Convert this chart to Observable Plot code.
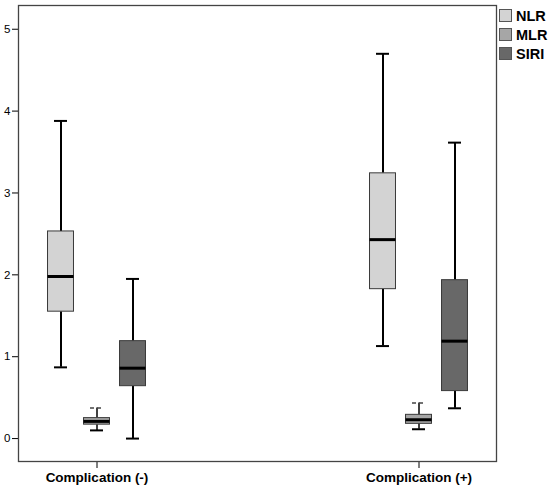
<!DOCTYPE html>
<html><head><meta charset="utf-8">
<script src="https://cdn.jsdelivr.net/npm/d3@7"></script>
<script src="https://cdn.jsdelivr.net/npm/@observablehq/plot@0.6"></script>
<style>
body{margin:0;background:#fff;font-family:"Liberation Sans",Arial,sans-serif}
#wrap{position:relative;width:550px;height:493px}
#legend{position:absolute;left:499px;top:6px;font-weight:bold;font-size:14.5px;color:#000}
.item{display:flex;align-items:center;height:19px}
.sw{width:11px;height:11px;border:1px solid #555;margin-right:4px}
g[aria-label="x-axis tick label"] text, g[aria-label="x-axis"] text{font-weight:bold;font-size:13.5px}
g[aria-label="y-axis tick label"] text, g[aria-label="y-axis"] text{font-size:11.5px}
</style></head><body><div id="wrap"><div id="legend"></div></div>
<script>
const groups = ["Complication (-)", "Complication (+)"];
const series = ["NLR", "MLR", "SIRI"];
const colors = ["#d3d3d3", "#a6a6a6", "#686868"];
const yTicks = [0, 1, 2, 3, 4, 5];
// values per series: [Complication (-), Complication (+)]
const minV    = {NLR: [0.87, 1.13], MLR: [0.10, 0.114], SIRI: [0.00, 0.37]};
const q1V     = {NLR: [1.55, 1.825], MLR: [0.17, 0.18], SIRI: [0.64, 0.58]};
const medianV = {NLR: [1.98, 2.43], MLR: [0.21, 0.23], SIRI: [0.86, 1.19]};
const q3V     = {NLR: [2.53, 3.24], MLR: [0.25, 0.29], SIRI: [1.19, 1.935]};
const maxV    = {NLR: [3.88, 4.70], MLR: [0.375, 0.435], SIRI: [1.95, 3.615]};

const width = 550, height = 493;
const mL = 18, mR = 54, mT = 5, mB = 32;
const padInner = 0.52;
const step = (width - mL - mR) / (groups.length - padInner);
const bw = step * (1 - padInner);
const offsets = [-36, 0, 36];
const boxHalf = 13, capHalf = 6.5;

const marks = [Plot.frame({stroke: "#444", strokeWidth: 1.3})];
series.forEach((s, i) => {
  const rows = groups.map((g, j) => ({group: g, series: s,
    min: minV[s][j], q1: q1V[s][j], median: medianV[s][j], q3: q3V[s][j], max: maxV[s][j]}));
  const off = offsets[i];
  const boxIn = {insetLeft: bw / 2 + off - boxHalf, insetRight: bw / 2 - off - boxHalf};
  const capIn = {insetLeft: bw / 2 + off - capHalf, insetRight: bw / 2 - off - capHalf};
  const ww = s === "MLR" ? 1.5 : 2;
  marks.push(
    Plot.ruleX(rows, {x: "group", y1: "min", y2: "q1", dx: off, stroke: "#000", strokeWidth: ww}),
    Plot.ruleX(rows, {x: "group", y1: "q3", y2: "max", dx: off, stroke: "#000", strokeWidth: ww}),
    Plot.tickY(rows, {x: "group", y: "min", stroke: "#000", strokeWidth: 2, ...capIn}),
    Plot.tickY(rows, {x: "group", y: "max", stroke: s === "MLR" ? "#444" : "#000",
      strokeWidth: s === "MLR" ? 1.5 : 2, strokeDasharray: s === "MLR" ? "4,3" : null, ...capIn}),
    Plot.barY(rows, {x: "group", y1: "q1", y2: "q3", fill: colors[i], stroke: "#3a3a3a", strokeWidth: 1, ...boxIn}),
    Plot.tickY(rows, {x: "group", y: "median", stroke: "#000", strokeWidth: 3, ...boxIn})
  );
});

const chart = Plot.plot({
  width, height,
  marginLeft: mL, marginRight: mR, marginTop: mT, marginBottom: mB,
  style: {fontFamily: '"Liberation Sans", Arial, sans-serif', color: "#000", background: "#fff"},
  x: {type: "band", domain: groups, paddingInner: padInner, paddingOuter: 0, label: null, tickSize: 7, tickPadding: 4},
  y: {domain: [-0.28, 5.29], ticks: yTicks, tickFormat: d3.format("d"), label: null, tickSize: 6, tickPadding: 2},
  marks
});
document.getElementById("wrap").prepend(chart);

const legend = document.getElementById("legend");
series.forEach((s, i) => {
  const it = document.createElement("div");
  it.className = "item";
  it.innerHTML = `<span class="sw" style="background:${colors[i]}"></span><span>${s}</span>`;
  legend.appendChild(it);
});
</script>
</body></html>
